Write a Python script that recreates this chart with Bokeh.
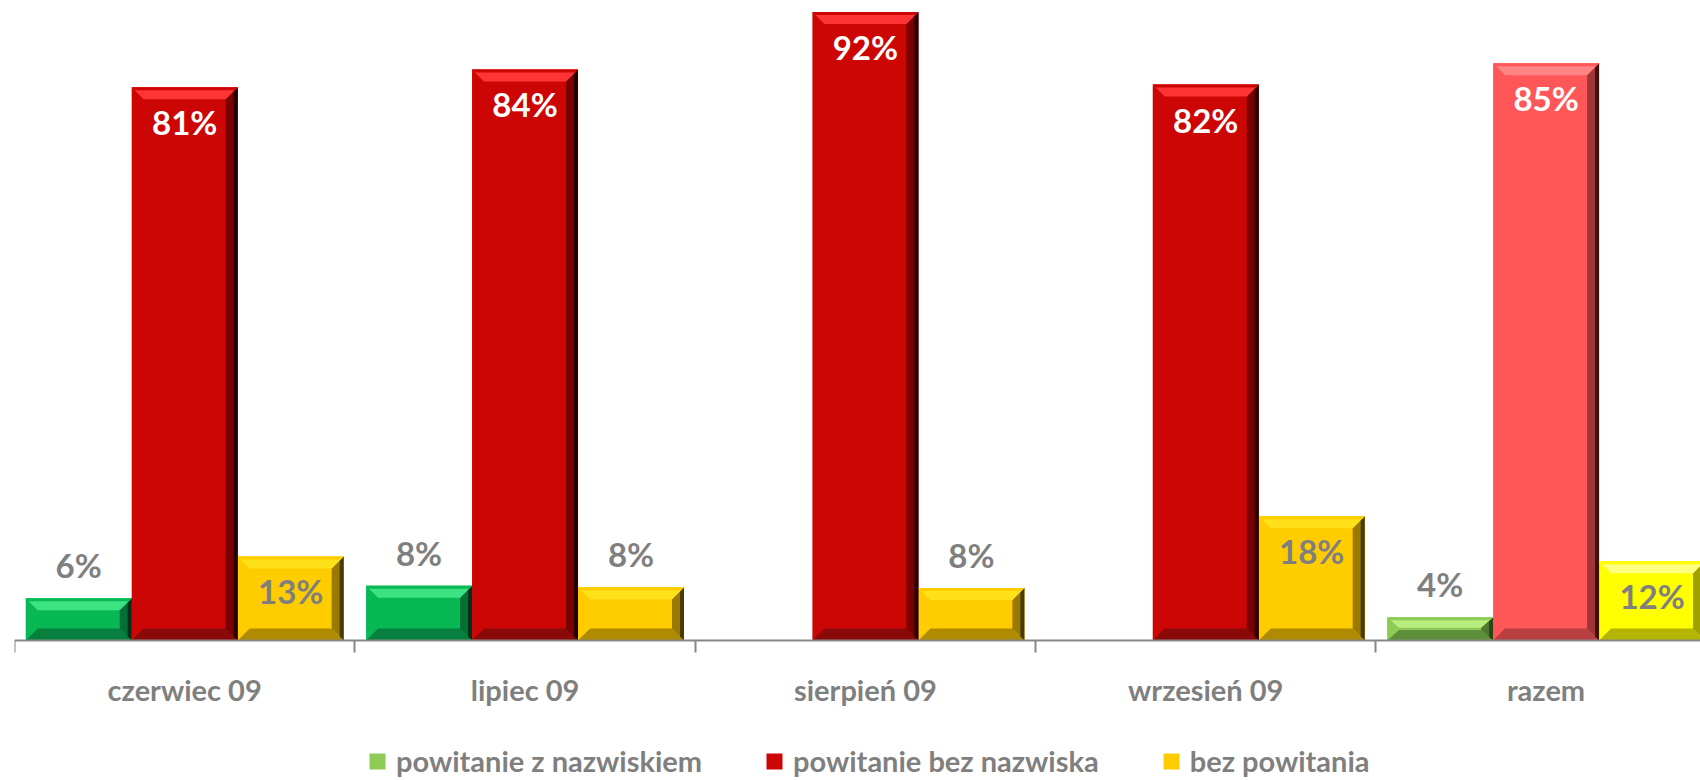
from bokeh.plotting import figure
from bokeh.models import ColumnDataSource, Range1d, FixedTicker, Legend, LegendItem, LinearAxis
from bokeh.embed import file_html
from bokeh.resources import INLINE
from bokeh.core.properties import value

# ---------------- data ----------------
categories = ["czerwiec 09", "lipiec 09", "sierpień 09", "wrzesień 09", "razem"]
series_names = ["powitanie z nazwiskiem", "powitanie bez nazwiska", "bez powitania"]
green_vals = [6.2, 8.0, 0.0, 0.0, 3.4]
red_vals = [81.0, 83.6, 92.0, 81.4, 84.5]
yellow_vals = [12.3, 7.8, 7.7, 18.2, 11.6]
green_labels = ["6%", "8%", "", "", "4%"]
red_labels = ["81%", "84%", "92%", "82%", "85%"]
yellow_labels = ["13%", "8%", "8%", "18%", "12%"]

# ---------------- styles ----------------
# (base, top bevel, bottom bevel, right bevel, right edge)
green_style = [("#08B854", "#3DE282", "#06803C", "#057035", "#023018")] * 4 + \
              [("#8DCB55", "#B8EE80", "#5F8F3A", "#4F7A30", "#2A4518")]
red_style = [("#CC0505", "#FF3535", "#8A0A0A", "#7A0000", "#250000")] * 4 + \
            [("#FF5757", "#FF8585", "#B84040", "#A03535", "#401010")]
yellow_style = [("#FFCC00", "#FFE11A", "#B08A00", "#9A7A00", "#4A3A00")] * 4 + \
               [("#FFFF00", "#FFFF80", "#B5B500", "#A0A000", "#505000")]
label_colors = ["#7F7F7F", "#FFFFFF", "#7F7F7F"]
GRAY = "#7F7F7F"
FONT = "Lato"

W, H = 1700, 780
LEFT = 14
CAT_PX = 340.35
AXIS_PX = 640          # pixel row of the zero line
Y_END = 93.7
X_END = -0.5 + (W - LEFT) / CAT_PX
PX_X = 1.0 / CAT_PX
PX_Y = Y_END / AXIS_PX
Y_START = -(H - AXIS_PX) * PX_Y
BAR_W = 0.3114
OFFS = [-BAR_W, 0.0, BAR_W]

p = figure(frame_width=W - LEFT, frame_height=H,
           x_range=Range1d(-0.5, X_END), y_range=Range1d(Y_START, Y_END),
           output_backend="svg", toolbar_location=None,
           x_axis_location=None, y_axis_location=None,
           min_border_left=LEFT, min_border_right=0, min_border_top=0,
           min_border_bottom=0)
p.xgrid.visible = False
p.ygrid.visible = False
p.outline_line_color = None
p.background_fill_color = "white"
p.border_fill_color = "white"

all_vals = [green_vals, red_vals, yellow_vals]
all_labels = [green_labels, red_labels, yellow_labels]
all_styles = [green_style, red_style, yellow_style]

base_renderers = []
pxs, pys, pcol = [], [], []
tx, ty, tt, tc = [], [], [], []

for s in range(3):
    vals = all_vals[s]
    lefts = [i + OFFS[s] - BAR_W / 2 for i in range(len(categories))]
    rights = [l + BAR_W for l in lefts]
    src = ColumnDataSource(dict(left=lefts, right=rights, top=vals, bottom=[0] * len(vals),
                                color=[st[0] for st in all_styles[s]]))
    r = p.quad(left="left", right="right", top="top", bottom="bottom", source=src,
               fill_color="color", line_color=None)
    base_renderers.append(r)
    for i, v in enumerate(vals):
        if v <= 0:
            continue
        L, R, T = lefts[i], rights[i], v
        base, top_c, bot_c, right_c, edge_c = all_styles[s][i]
        bx = 12 * PX_X
        by = min(12 * PX_Y, T * 0.45)
        ex = 4 * PX_X
        # bottom bevel
        pxs.append([L, R, R - bx, L + bx]); pys.append([0, 0, by, by]); pcol.append(bot_c)
        # right bevel
        pxs.append([R, R, R - bx, R - bx]); pys.append([T, 0, by, T - by]); pcol.append(right_c)
        # right dark edge
        pxs.append([R, R, R - ex, R - ex]); pys.append([T, 0, by / 3, T - by / 3]); pcol.append(edge_c)
        # top bevel
        pxs.append([L, R, R - bx, L + bx]); pys.append([T, T, T - by, T - by]); pcol.append(top_c)
        # thin top rim
        rim_x, rim_y = 3 * PX_X, min(3 * PX_Y, by / 3)
        pxs.append([L, R, R - rim_x, L + rim_x]); pys.append([T, T, T - rim_y, T - rim_y]); pcol.append(base)
        # label
        lab = all_labels[s][i]
        if lab:
            tx.append(i + OFFS[s])
            if v >= 10:
                ty.append(T - 35 * PX_Y)
            else:
                ty.append(T + 33 * PX_Y)
            tt.append(lab)
            tc.append(label_colors[s])

p.patches(xs="xs", ys="ys", fill_color="c", line_color=None,
          source=ColumnDataSource(dict(xs=pxs, ys=pys, c=pcol)))

p.text(x="x", y="y", text="t", text_color="c", source=ColumnDataSource(dict(x=tx, y=ty, t=tt, c=tc)),
       text_font=value(FONT), text_font_style="bold", text_font_size="33px",
       text_align="center", text_baseline="middle")

# category axis drawn at the zero line
ax = LinearAxis(fixed_location=0)
ax.ticker = FixedTicker(ticks=list(range(len(categories))),
                        minor_ticks=[k - 0.5 for k in range(len(categories) + 1)])
ax.major_label_overrides = {i: c for i, c in enumerate(categories)}
ax.axis_line_color = "#878787"
ax.axis_line_width = 2
ax.major_tick_line_color = None
ax.major_tick_out = 0
ax.major_tick_in = 0
ax.minor_tick_line_color = "#878787"
ax.minor_tick_line_width = 2
ax.minor_tick_out = 12
ax.minor_tick_in = 0
ax.major_label_standoff = 19
ax.major_label_text_font = FONT
ax.major_label_text_font_style = "bold"
ax.major_label_text_font_size = "29px"
ax.major_label_text_color = GRAY
p.add_layout(ax, "below")

legend = Legend(items=[
    LegendItem(label=series_names[0], renderers=[base_renderers[0]], index=4),
    LegendItem(label=series_names[1], renderers=[base_renderers[1]], index=0),
    LegendItem(label=series_names[2], renderers=[base_renderers[2]], index=0),
], orientation="horizontal", location=(353, 2), glyph_width=20, glyph_height=20,
    label_standoff=9, spacing=62, padding=0, margin=0,
    border_line_alpha=0, background_fill_alpha=0,
    label_text_font=FONT, label_text_font_style="bold", label_text_font_size="29px",
    label_text_color=GRAY)
p.add_layout(legend, "center")

open("out.html", "w").write(file_html(p, INLINE))
